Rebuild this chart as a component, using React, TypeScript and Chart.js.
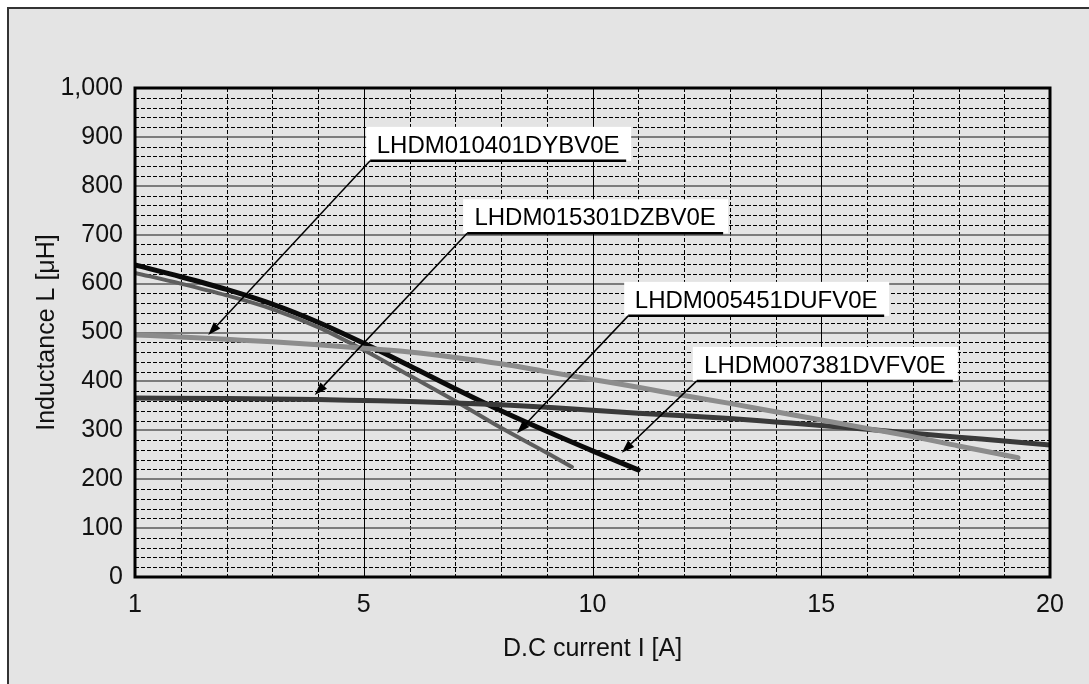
import React, { useEffect, useRef } from 'react';
import { Chart, registerables } from 'chart.js';

Chart.register(...registerables);

// ---- Data (x = D.C current in axis units, first axis tick is labeled "1") ----
const seriesNames = ['LHDM010401DYBV0E', 'LHDM015301DZBV0E', 'LHDM005451DUFV0E', 'LHDM007381DVFV0E'];

const xs010401 = [0, 1, 2, 3, 4, 5, 6, 7, 8, 9, 10, 11, 12, 13, 14, 15, 16, 17, 18, 19.3];
const ys010401 = [495, 491, 486, 481, 475, 468, 460, 449, 436, 420, 404, 388, 371, 355, 338, 321, 304, 287, 268, 244];

const xs015301 = [0, 2, 4, 5, 6, 7, 8, 9, 10, 11, 12, 13, 14, 15, 16, 17, 18, 19, 20];
const ys015301 = [366, 365, 363, 361, 359, 356, 352, 347, 341, 335, 330, 324, 317, 310, 302, 294, 286, 278, 270];

const xs005451 = [0, 1, 2, 3, 4, 5, 6, 7, 8, 9, 9.55];
const ys005451 = [622, 600, 576, 548, 511, 464, 412, 360, 305, 254, 225];

const xs007381 = [0, 1, 2, 3, 4, 5, 6, 7, 8, 9, 10, 11];
const ys007381 = [638, 614, 588, 558, 521, 478, 432, 385, 340, 298, 258, 219];

const seriesColors = ['#8c8c8c', '#3a3a3a', '#5e5e5e', '#0a0a0a'];
const seriesWidths = [5, 5, 4, 5];

const xTickLabels: Record<number, string> = { 0: '1', 5: '5', 10: '10', 15: '15', 20: '20' };

// Callout annotations: tip (data units), elbow (data units) of underline
const calloutLabels = seriesNames;
const calloutTips: [number, number][] = [
  [1.6, 495],
  [3.93, 372],
  [8.35, 294],
  [10.64, 254],
];
const calloutElbows: [number, number][] = [
  [5.14, 851],
  [7.26, 703],
  [10.78, 534],
  [12.28, 401],
];

const FONT = '"Liberation Sans", Arial, sans-serif';

function toPoints(xs: number[], ys: number[]) {
  return xs.map((x, i) => ({ x, y: ys[i] }));
}

const gridPlugin = {
  id: 'customGrid',
  beforeDatasetsDraw(chart: any) {
    const { ctx, chartArea: a, scales } = chart;
    const xs = scales.x;
    const ys = scales.y;
    ctx.save();
    // horizontal dashed minor lines
    ctx.lineWidth = 1;
    ctx.strokeStyle = '#000';
    ctx.setLineDash([4, 2]);
    for (let v = 20; v < 1000; v += 20) {
      if (v % 100 === 0) continue;
      const y = Math.round(ys.getPixelForValue(v)) + 0.5;
      ctx.beginPath();
      ctx.moveTo(a.left, y);
      ctx.lineTo(a.right, y);
      ctx.stroke();
    }
    for (let v = 1; v < 20; v++) {
      if (v % 5 === 0) continue;
      const x = Math.round(xs.getPixelForValue(v)) + 0.5;
      ctx.beginPath();
      ctx.moveTo(x, a.top);
      ctx.lineTo(x, a.bottom);
      ctx.stroke();
    }
    ctx.setLineDash([]);
    // horizontal solid major lines
    ctx.strokeStyle = '#5a5a5a';
    ctx.lineWidth = 1.6;
    for (let v = 100; v < 1000; v += 100) {
      const y = Math.round(ys.getPixelForValue(v));
      ctx.beginPath();
      ctx.moveTo(a.left, y);
      ctx.lineTo(a.right, y);
      ctx.stroke();
    }
    // vertical solid major lines
    ctx.strokeStyle = '#000';
    ctx.lineWidth = 1;
    for (let v = 5; v < 20; v += 5) {
      const x = Math.round(xs.getPixelForValue(v)) + 0.5;
      ctx.beginPath();
      ctx.moveTo(x, a.top);
      ctx.lineTo(x, a.bottom);
      ctx.stroke();
    }
    ctx.restore();
  },
  afterDraw(chart: any) {
    const { ctx, chartArea: a, scales } = chart;
    const xs = scales.x;
    const ys = scales.y;
    ctx.save();
    // plot border
    ctx.strokeStyle = '#000';
    ctx.lineWidth = 3;
    ctx.strokeRect(a.left, a.top, a.right - a.left, a.bottom - a.top);

    // callouts
    const W = 256;
    ctx.font = `24px ${FONT}`;
    for (let i = 0; i < calloutLabels.length; i++) {
      const ex = xs.getPixelForValue(calloutElbows[i][0]);
      const ey = ys.getPixelForValue(calloutElbows[i][1]);
      const tx = xs.getPixelForValue(calloutTips[i][0]);
      const ty = ys.getPixelForValue(calloutTips[i][1]);
      ctx.fillStyle = '#fff';
      ctx.fillRect(ex - 4, ey - 34, W + 9, 34);
      ctx.fillStyle = '#000';
      ctx.textAlign = 'center';
      ctx.textBaseline = 'alphabetic';
      ctx.fillText(calloutLabels[i], ex + W / 2, ey - 8);
      ctx.strokeStyle = '#000';
      ctx.lineWidth = 2.5;
      ctx.beginPath();
      ctx.moveTo(ex, ey);
      ctx.lineTo(ex + W, ey);
      ctx.stroke();
      ctx.lineWidth = 1.5;
      const ang = Math.atan2(ty - ey, tx - ex);
      const L = 13;
      const bx = tx - L * Math.cos(ang);
      const by = ty - L * Math.sin(ang);
      ctx.beginPath();
      ctx.moveTo(ex, ey);
      ctx.lineTo(bx, by);
      ctx.stroke();
      const hw = 4.5;
      ctx.beginPath();
      ctx.moveTo(tx, ty);
      ctx.lineTo(bx + hw * Math.sin(ang), by - hw * Math.cos(ang));
      ctx.lineTo(bx - hw * Math.sin(ang), by + hw * Math.cos(ang));
      ctx.closePath();
      ctx.fillStyle = '#000';
      ctx.fill();
    }

    // axis titles
    ctx.fillStyle = '#111';
    ctx.font = `25px ${FONT}`;
    ctx.textAlign = 'center';
    ctx.textBaseline = 'middle';
    ctx.fillText('D.C current I [A]', (a.left + a.right) / 2, a.bottom + 72);
    ctx.translate(47, (a.top + a.bottom) / 2);
    ctx.rotate(-Math.PI / 2);
    ctx.fillText('Inductance L [μH]', 0, 0);
    ctx.restore();
  },
};

export default function App() {
  const ref = useRef<HTMLCanvasElement>(null);
  useEffect(() => {
    const canvas = ref.current!;
    const allX = [xs010401, xs015301, xs005451, xs007381];
    const allY = [ys010401, ys015301, ys005451, ys007381];
    const chart = new Chart(canvas, {
      type: 'line',
      data: {
        datasets: seriesNames.map((name, i) => ({
          label: name,
          data: toPoints(allX[i], allY[i]),
          borderColor: seriesColors[i],
          borderWidth: seriesWidths[i],
          borderCapStyle: 'round',
          borderJoinStyle: 'round',
          pointRadius: 0,
          fill: false,
          cubicInterpolationMode: 'monotone',
        })) as any,
      },
      options: {
        responsive: false,
        animation: false,
        devicePixelRatio: 1,
        layout: { padding: { left: 0, right: 39, top: 88, bottom: 0 } },
        plugins: { legend: { display: false }, tooltip: { enabled: false } },
        scales: {
          x: {
            type: 'linear',
            min: 0,
            max: 20,
            afterFit: (s: any) => {
              s.height = 107;
            },
            grid: { display: false, drawTicks: false },
            border: { display: false },
            ticks: {
              stepSize: 5,
              autoSkip: false,
              maxRotation: 0,
              padding: 13,
              color: '#111',
              font: { family: FONT, size: 25 },
              callback: (v: any) => xTickLabels[v] ?? '',
            },
          },
          y: {
            type: 'linear',
            min: 0,
            max: 1000,
            afterFit: (s: any) => {
              s.width = 135;
            },
            grid: { display: false, drawTicks: false },
            border: { display: false },
            ticks: {
              stepSize: 100,
              padding: 12,
              color: '#111',
              font: { family: FONT, size: 25 },
              callback: (v: any) => Number(v).toLocaleString('en-US'),
            },
          },
        },
      },
      plugins: [gridPlugin],
    });
    return () => chart.destroy();
  }, []);
  return (
    <div style={{ position: 'fixed', left: 0, top: 0, width: 1089, height: 684, background: '#fff', overflow: 'hidden' }}>
      <div
        style={{
          position: 'absolute',
          left: 7,
          top: 7,
          width: 1100,
          height: 700,
          borderLeft: '2px solid #333',
          borderTop: '2px solid #333',
          background: '#e4e4e4',
        }}
      />
      <canvas ref={ref} width={1089} height={684} style={{ position: 'absolute', left: 0, top: 0 }} />
    </div>
  );
}
